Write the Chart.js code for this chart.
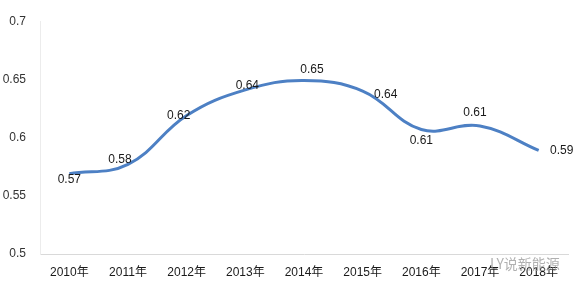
<!DOCTYPE html>
<html><head><meta charset="utf-8">
<script src="https://cdn.jsdelivr.net/npm/chart.js@4/dist/chart.umd.min.js"></script>
<style>html,body{margin:0;padding:0;background:#fff}#wrap{width:580px;height:289px;position:relative}</style>
</head><body><div id="wrap"><canvas id="c" width="580" height="289"></canvas></div>
<script>
const categories = ['2010年','2011年','2012年','2013年','2014年','2015年','2016年','2017年','2018年'];
const values = [0.569, 0.577, 0.619, 0.641, 0.649, 0.640, 0.607, 0.610, 0.589];
const valueLabels = ['0.57','0.58','0.62','0.64','0.65','0.64','0.61','0.61','0.59'];
const yTicks = [0.5, 0.55, 0.6, 0.65, 0.7];
// label placement offsets (dx, dy) relative to each point
const labelOffsets = [[0,6],[-8,-5],[-8,0],[2,-4],[8,-11],[23,4],[0,11],[-5,-13],[23,0]];

const FONT = '"Liberation Sans", Arial, "Noto Sans CJK SC", sans-serif';

const labelPlugin = {
  id: 'labels',
  afterDatasetsDraw(chart) {
    const ctx = chart.ctx;
    const meta = chart.getDatasetMeta(0);
    ctx.save();
    ctx.font = '12px ' + FONT;
    ctx.fillStyle = '#1a1a1a';
    ctx.textAlign = 'center';
    ctx.textBaseline = 'middle';
    meta.data.forEach((pt, i) => {
      const o = labelOffsets[i];
      ctx.fillText(valueLabels[i], pt.x + o[0], pt.y + o[1]);
    });
    // watermark
    ctx.font = '14px "Noto Sans CJK SC", sans-serif';
    ctx.fillStyle = 'rgba(150,150,150,0.75)';
    ctx.textAlign = 'left';
    ctx.fillText('LY说新能源', 490, 264);
    ctx.restore();
  }
};

new Chart(document.getElementById('c'), {
  type: 'line',
  data: {
    labels: categories,
    datasets: [{
      data: values,
      borderColor: '#4d80c4',
      borderWidth: 3,
      tension: 0.4,
      pointRadius: 0,
      fill: false
    }]
  },
  options: {
    responsive: false,
    animation: false,
    layout: { padding: { top: 17, right: 12, bottom: 0, left: 0 } },
    plugins: { legend: { display: false }, tooltip: { enabled: false } },
    scales: {
      x: {
        offset: true,
        grid: { display: false, drawTicks: false },
        border: { display: true, color: '#d9d9d9', width: 1 },
        ticks: { padding: 11, color: '#1a1a1a', font: { family: FONT, size: 12 }, maxRotation: 0 },
        afterFit(s) { s.height = 35; }
      },
      y: {
        min: 0.5, max: 0.7,
        afterBuildTicks(s) { s.ticks = yTicks.map(v => ({ value: v })); },
        grid: { display: false, drawTicks: false },
        border: { display: true, color: '#ececec', width: 1 },
        ticks: { padding: 14, color: '#333', font: { family: FONT, size: 12 },
          callback: v => String(Number(v.toFixed(2))) },
        afterFit(s) { s.width = 40; }
      }
    }
  },
  plugins: [labelPlugin]
});
</script>
</body></html>
